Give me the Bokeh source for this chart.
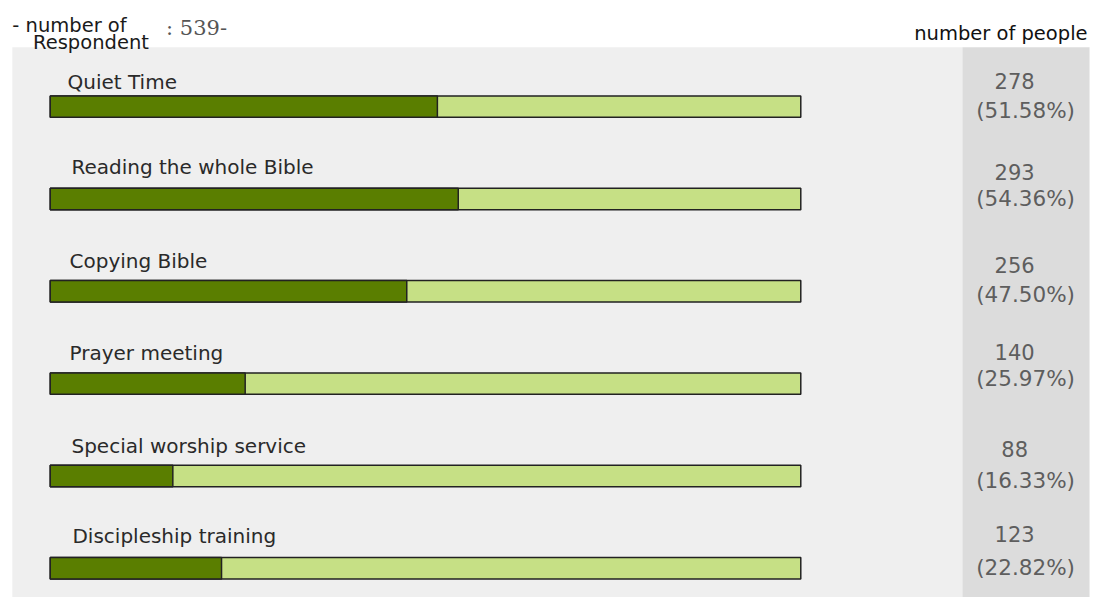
from bokeh.plotting import figure
from bokeh.models import Range1d
from bokeh.core.properties import value
from bokeh.embed import file_html
from bokeh.resources import INLINE

# ---- data ----
categories = ["Quiet Time", "Reading the whole Bible", "Copying Bible",
              "Prayer meeting", "Special worship service", "Discipleship training"]
counts = [278, 293, 256, 140, 88, 123]
percents = [51.58, 54.36, 47.50, 25.97, 16.33, 22.82]
respondents = 539

# ---- layout (reference pixels, scaled to the figure) ----
W, H = 1093, 597
KX, KY = W / 1109.0, H / 613.0

X0_PX, X100_PX = 50.5 * KX, 812 * KX      # bar 0% and 100%
ROW0_PX, ROW_STEP = 109 * KY, 94.8 * KY   # row centers

label_dx = [68, 72, 70, 70, 72, 73]               # label left edge (ref px)
label_dy = [-25, -33, -31, -31, -31, -33]         # label centre offset from bar
count_dy = [-26.5, -27.5, -27.5, -32, -28, -35.5]
pct_dy = [4, 0, 3, -5, 4.5, -1]

sx = (X100_PX - X0_PX) / 100.0
x_start = -X0_PX / sx
x_end = (W - X0_PX) / sx
y_top = -ROW0_PX / ROW_STEP
y_bot = (H - ROW0_PX) / ROW_STEP


def px_x(ref_px):
    return (ref_px * KX - X0_PX) / sx


def px_y(ref_px):
    return (ref_px * KY - ROW0_PX) / ROW_STEP


p = figure(width=W, height=H, output_backend="svg", toolbar_location=None,
           x_range=Range1d(x_start, x_end), y_range=Range1d(y_bot, y_top),
           min_border=0, border_fill_color="white", background_fill_color="white")
p.axis.visible = False
p.grid.visible = False
p.outline_line_color = None

# background panels
p.quad(left=px_x(12), right=px_x(976), top=px_y(48), bottom=y_bot,
       fill_color="#efefef", line_color=None)
p.quad(left=px_x(976), right=px_x(1105), top=px_y(48), bottom=y_bot,
       fill_color="#dcdcdc", line_color=None)

rows = list(range(len(categories)))
bh = 22 * KY / ROW_STEP

# full (light) bars
p.hbar(y=rows, left=0, right=[100] * len(rows), height=bh,
       fill_color="#c6e085", line_color="#222222", line_width=1.5)
# filled (dark) bars
p.hbar(y=rows, left=0, right=percents, height=bh,
       fill_color="#5a7e00", line_color="#222222", line_width=1.5)

# category labels
for i, cat in enumerate(categories):
    p.text(x=[px_x(label_dx[i])], y=[i], text=[cat], y_offset=label_dy[i] * KY,
           text_baseline="middle", text_align="left",
           text_font=value("DejaVu Sans"), text_font_size="20px",
           text_color="#2a2a2a")

# right column counts and percentages
for i in rows:
    p.text(x=[px_x(1029)], y=[i], text=[str(counts[i])], y_offset=count_dy[i] * KY,
           text_baseline="middle", text_align="center",
           text_font=value("DejaVu Sans"), text_font_size="21px", text_color="#5e5e5e")
    p.text(x=[px_x(990)], y=[i], text=["(%.2f%%)" % percents[i]], y_offset=pct_dy[i] * KY,
           text_baseline="middle", text_align="left",
           text_font=value("DejaVu Sans"), text_font_size="21.5px", text_color="#5e5e5e")

# header texts
p.text(x=[px_x(12)], y=[px_y(26)], text=["- number of"], text_baseline="middle",
       text_font=value("DejaVu Sans"), text_font_size="19.5px", text_color="#1a1a1a")
p.text(x=[px_x(33)], y=[px_y(43)], text=["Respondent"], text_baseline="middle",
       text_font=value("DejaVu Sans"), text_font_size="19.5px", text_color="#1a1a1a")
p.text(x=[px_x(168)], y=[px_y(28)], text=[": %d-" % respondents], text_baseline="middle",
       text_font=value("DejaVu Serif"), text_font_size="21px", text_color="#555555")
p.text(x=[px_x(1103)], y=[px_y(34)], text=["number of people"], text_baseline="middle",
       text_align="right",
       text_font=value("DejaVu Sans"), text_font_size="19.5px", text_color="#111111")

open("out.html", "w").write(file_html(p, INLINE))
